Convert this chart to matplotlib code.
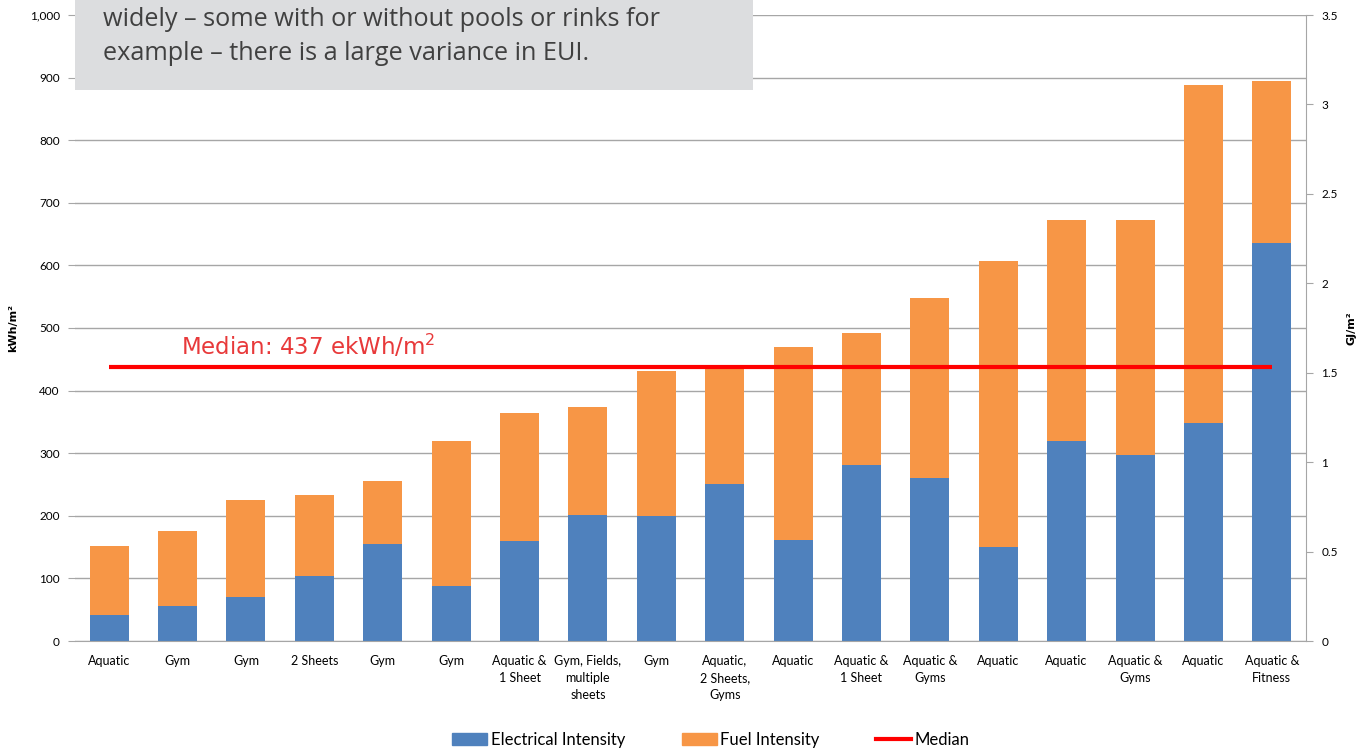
import matplotlib
matplotlib.use("Agg")
import matplotlib.pyplot as plt
from matplotlib.patches import Rectangle, Patch
from matplotlib.lines import Line2D
import numpy as np

categories = ["Aquatic", "Gym", "Gym", "2 Sheets", "Gym", "Gym", "Aquatic &\n1 Sheet",
              "Gym, Fields,\nmultiple\nsheets", "Gym", "Aquatic,\n2 Sheets,\nGyms", "Aquatic",
              "Aquatic &\n1 Sheet", "Aquatic &\nGyms", "Aquatic", "Aquatic", "Aquatic &\nGyms",
              "Aquatic", "Aquatic &\nFitness"]
electrical = [42, 56, 70, 104, 155, 88, 160, 201, 200, 251, 161, 281, 260, 150, 319, 297, 348, 636]
total = [152, 176, 225, 233, 256, 320, 364, 374, 431, 436, 470, 492, 548, 607, 672, 673, 888, 894]
fuel = [t - e for t, e in zip(total, electrical)]
median = 437
left_ticks = [0, 100, 200, 300, 400, 500, 600, 700, 800, 900, 1000]
right_ticks = [0, 0.5, 1, 1.5, 2, 2.5, 3, 3.5]
box_lines = ["widely \u2013 some with or without pools or rinks for",
             "example \u2013 there is a large variance in EUI."]

W, H = 1364, 751
fig = plt.figure(figsize=(W / 100, H / 100), dpi=100)
ax = fig.add_axes([75 / W, 1 - 641 / H, (1306 - 75) / W, (641 - 15) / H])

x = np.arange(len(categories))
blue = "#4F81BD"
orange = "#F79646"
ax.bar(x, electrical, width=0.57, color=blue, zorder=2)
ax.bar(x, fuel, width=0.57, bottom=electrical, color=orange, zorder=2)
ax.plot([x[0], x[-1]], [median, median], color="#FF0000", lw=3, zorder=3, solid_capstyle="butt")
ax.text(1.05, median + 12, "Median: 437 ekWh/m$^{2}$", color="#E8393A", fontsize=16.5,
        family="DejaVu Sans", ha="left", va="bottom", zorder=4)

ax.set_xlim(-0.5, len(categories) - 0.5)
ax.set_ylim(0, 1000)
ax.set_yticks(left_ticks)
ax.set_yticklabels([f"{v:,}" for v in left_ticks])
ax.yaxis.grid(True, color="#A6A6A6", lw=1, zorder=0)
ax.set_axisbelow(True)
for s in ["top", "left", "right"]:
    ax.spines[s].set_visible(False)
ax.spines["bottom"].set_color("#A6A6A6")
ax.tick_params(axis="y", length=5, color="#A6A6A6", labelsize=8.5, pad=6)
ax.tick_params(axis="x", length=0, labelsize=9, pad=10)
ax.set_xticks(x)
ax.set_xticklabels(categories, family="Lato", linespacing=1.5)
for lab in ax.get_yticklabels():
    lab.set_family("Lato")
ax.set_ylabel("kWh/m\u00b2", fontsize=8, fontweight="bold", family="DejaVu Sans", labelpad=8)

ax2 = ax.twinx()
ax2.set_ylim(0, 3.5)
ax2.set_yticks(right_ticks)
ax2.set_yticklabels([f"{v:g}" for v in right_ticks], family="Lato")
for s in ["top", "left", "bottom"]:
    ax2.spines[s].set_visible(False)
ax2.spines["right"].set_color("#A6A6A6")
ax2.tick_params(axis="y", length=5, color="#A6A6A6", labelsize=8.5, pad=6)
ax2.set_ylabel("GJ/m\u00b2", fontsize=8, fontweight="bold", family="DejaVu Sans", labelpad=6)

handles = [Patch(color=blue, label="Electrical Intensity"),
           Patch(color=orange, label="Fuel Intensity"),
           Line2D([0], [0], color="#FF0000", lw=3, label="Median")]
fig.legend(handles=handles, loc="center", bbox_to_anchor=(711 / W, 1 - 740 / H), ncol=3,
           frameon=False, prop={"family": "Lato", "size": 12}, handlelength=2.1,
           handleheight=0.7, columnspacing=3.4, handletextpad=0.2)

# overlaid text box
fig.patches.append(Rectangle((75 / W, 1 - 90 / H), (753 - 75) / W, 90 / H,
                             transform=fig.transFigure, facecolor="#DCDDDF",
                             edgecolor="none", zorder=10))
for i, line in enumerate(box_lines):
    fig.text(103 / W, 1 - (20 + 33 * i) / H, line, fontsize=18.2, family="Open Sans",
             color="#404040", ha="left", va="center", zorder=11)

fig.savefig("out.png", dpi=100)
